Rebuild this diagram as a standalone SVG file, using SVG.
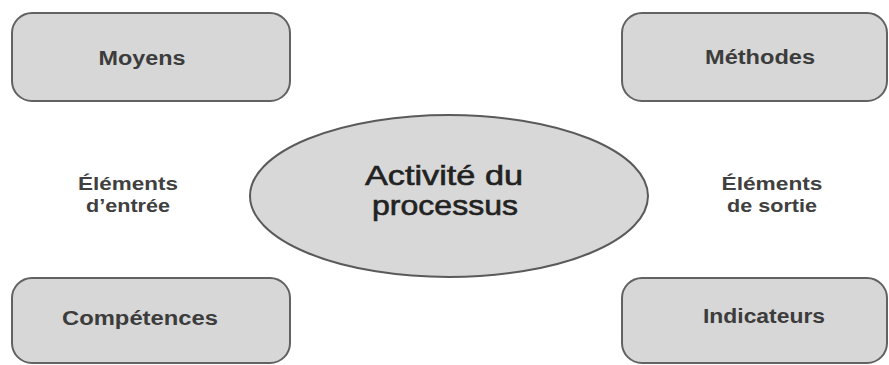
<svg xmlns="http://www.w3.org/2000/svg" width="889" height="365" viewBox="0 0 889 365">
  <style>
    .box { fill: #d7d7d7; stroke: #626262; stroke-width: 2; }
    .core { fill: #d8d8d8; stroke: #5a5a5a; stroke-width: 2; }
    .lbl { font-family: "Liberation Sans", Arial, sans-serif; font-weight: bold; fill: #3c3c3c; text-anchor: middle; }
    .box-lbl { font-size: 20px; }
    .side-lbl { font-size: 18px; fill: #404040; }
    .core-lbl { font-family: "Liberation Sans", Arial, sans-serif; font-size: 28px; fill: #222; stroke: #222; stroke-width: 0.6; text-anchor: middle; }
  </style>
  <rect width="889" height="365" fill="#ffffff"/>

  <g id="moyens">
    <rect class="box" x="12" y="13" width="278" height="88" rx="20" ry="20"/>
    <text class="lbl box-lbl" x="142" y="65" textLength="87" lengthAdjust="spacingAndGlyphs">Moyens</text>
  </g>

  <g id="methodes">
    <rect class="box" x="622" y="13" width="265" height="88" rx="20" ry="20"/>
    <text class="lbl box-lbl" x="760" y="64" textLength="110" lengthAdjust="spacingAndGlyphs">Méthodes</text>
  </g>

  <g id="competences">
    <rect class="box" x="12" y="278" width="278" height="85" rx="20" ry="20"/>
    <text class="lbl box-lbl" x="140" y="325" textLength="156" lengthAdjust="spacingAndGlyphs">Compétences</text>
  </g>

  <g id="indicateurs">
    <rect class="box" x="622" y="278" width="265" height="85" rx="20" ry="20"/>
    <text class="lbl box-lbl" x="764" y="323" textLength="122" lengthAdjust="spacingAndGlyphs">Indicateurs</text>
  </g>

  <g id="activite">
    <ellipse class="core" cx="449" cy="196" rx="199" ry="81"/>
    <text class="core-lbl" x="444" y="185" textLength="158" lengthAdjust="spacingAndGlyphs">Activité du</text>
    <text class="core-lbl" x="445" y="215" textLength="146" lengthAdjust="spacingAndGlyphs">processus</text>
  </g>

  <g id="entree">
    <text class="lbl side-lbl" x="128" y="190" textLength="100" lengthAdjust="spacingAndGlyphs">Éléments</text>
    <text class="lbl side-lbl" x="128" y="212" textLength="84" lengthAdjust="spacingAndGlyphs">d’entrée</text>
  </g>

  <g id="sortie">
    <text class="lbl side-lbl" x="772" y="190" textLength="101" lengthAdjust="spacingAndGlyphs">Éléments</text>
    <text class="lbl side-lbl" x="772" y="212" textLength="90" lengthAdjust="spacingAndGlyphs">de sortie</text>
  </g>

  <g id="connectors"/>
</svg>
